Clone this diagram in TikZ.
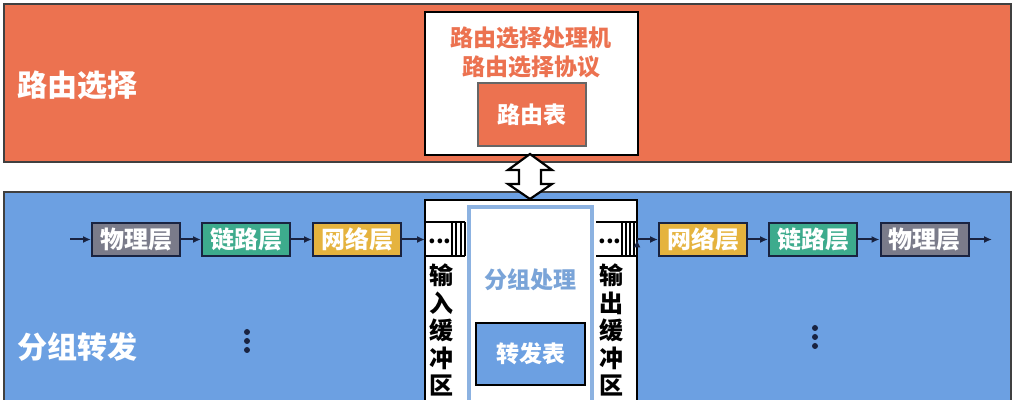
\documentclass[tikz,border=0pt]{standalone}
\usepackage{fontspec}
\newfontfamily\cjk{Noto Sans CJK SC}
\usepackage{xcolor}
\usetikzlibrary{arrows.meta}

\definecolor{routeorange}{RGB}{236,114,80}
\definecolor{fwdblue}{RGB}{108,160,226}
\definecolor{procblue}{RGB}{140,178,225}
\definecolor{proctext}{RGB}{122,164,216}
\definecolor{physgray}{RGB}{122,123,138}
\definecolor{linkteal}{RGB}{61,171,141}
\definecolor{netgold}{RGB}{229,179,62}
\definecolor{navy}{RGB}{25,35,65}

\begin{document}
\begin{tikzpicture}[x=0.5pt,y=-0.5pt,
	band/.style={draw=black!75, line width=0.6pt},
	layer/.style={draw=navy, line width=1pt, minimum width=44pt, minimum height=16.5pt,
		inner sep=0pt, text=white, font=\cjk\bfseries\fontsize{12}{12}\selectfont},
	bigtxt/.style={text=white, font=\cjk\bfseries\fontsize{15}{15}\selectfont, anchor=west},
	boxtxt/.style={font=\cjk\bfseries\fontsize{11.5}{14.5}\selectfont, align=center},
	buftxt/.style={font=\cjk\bfseries\fontsize{12}{13.75}\selectfont, align=center, inner sep=0pt},
	dots/.style={font=\cjk\bfseries\fontsize{11}{11}\selectfont, inner sep=0pt, anchor=base}]
		\useasboundingbox (0,0) rectangle (1014,400);
		\clip (0,0) rectangle (1014,400);
		%
		% the two bands
		\draw[band, fill=routeorange] (4,4) rectangle (1011,162);
		\draw[band, fill=fwdblue] (4,192) rectangle (1011,410);
		\node[bigtxt] (routeL) at (10,85) {路由选择};
		\node[bigtxt] (fwdL) at (10,347) {分组转发};
		%
		% routing processor
		\node[draw=black, line width=0.8pt, fill=white, minimum width=106.5pt, minimum height=71.5pt, inner sep=0pt] (rproc) at (531.5,83.5) {};
		\node[boxtxt, text=routeorange] (rprocT) at (531,52) {路由选择处理机\\路由选择协议};
		\node[draw=black!60, line width=0.6pt, fill=routeorange, minimum width=54pt, minimum height=31.5pt, inner sep=0pt, boxtxt, text=white] (rtable) at (532,114.5) {路由表};
		%
		% switching fabric
		\node[draw=black, line width=0.8pt, fill=white, minimum width=106pt, minimum height=110pt, inner sep=0pt] (fabric) at (531,310) {};
		\node[draw=procblue, line width=1.6pt, fill=white, minimum width=61.5pt, minimum height=110pt, inner sep=0pt] (proc) at (530.5,317) {};
		\node[boxtxt, text=proctext] (procT) at (530.5,280) {分组处理};
		\node[draw=black, line width=1.3pt, fill=fwdblue, minimum width=54.5pt, minimum height=31pt, inner sep=0pt, boxtxt, text=white] (ftable) at (530.5,354) {转发表};
		%
		% double arrow between the bands
		\coordinate (up) at (530,154);
		\coordinate (dn) at (530,199);
		\draw[line width=1.1pt, fill=white, line join=miter] (up) -- ++(-22,16) -- ++(11,0) -- ++(0,14) -- ++(-11,0) -- (dn)
			-- ++(22,-15) -- ++(-11,0) -- ++(0,-14) -- ++(11,0) -- cycle;
		%
		% buffers
		\draw[line width=0.8pt] (425,222) -- (465,222) (425,256) -- (465,256);
		\foreach \x in {452,456,461,465} \draw[line width=0.7pt] (\x,222) -- (\x,256);
		\draw[line width=0.8pt] (596,222) -- (636,222) (596,256) -- (636,256);
		\foreach \x in {622,626,630,634} \draw[line width=0.7pt] (\x,222) -- (\x,256);
		\coordinate (inbuf) at (425,239.5);
		\coordinate (outbuf) at (637,239.5);
		\node[dots] (indots) at (440,244) {...};
		\node[dots] (outdots) at (610,244) {...};
		\node[buftxt] (inT) at (441,330) {输\\入\\缓\\冲\\区};
		\node[buftxt] (outT) at (611,330) {输\\出\\缓\\冲\\区};
		%
		% layers
		\node[layer, fill=physgray] (P1) at (136,239.5) {物理层};
		\node[layer, fill=linkteal] (L1) at (246,239.5) {链路层};
		\node[layer, fill=netgold] (N1) at (357,239.5) {网络层};
		\node[layer, fill=netgold] (N2) at (703,239.5) {网络层};
		\node[layer, fill=linkteal] (L2) at (813,239.5) {链路层};
		\node[layer, fill=physgray] (P2) at (924.5,239.5) {物理层};
		\coordinate (in) at (70,239.5);
		\coordinate (out) at (992,239.5);
		%
		\path[-{Latex[length=4pt,width=3.5pt]}, draw=navy, line width=1pt]
		(in) edge (P1)
		(P1) edge (L1)
		(L1) edge (N1)
		(N1) edge (inbuf)
		(outbuf) edge (N2)
		(N2) edge (L2)
		(L2) edge (P2)
		(P2) edge (out);
		%
		% vertical dots
		\foreach \y in {332,341,350} {
			\fill[navy] (247,\y) circle (3);
			\fill[navy] (815,\y-4) circle (3);
		}
\end{tikzpicture}
\end{document}
